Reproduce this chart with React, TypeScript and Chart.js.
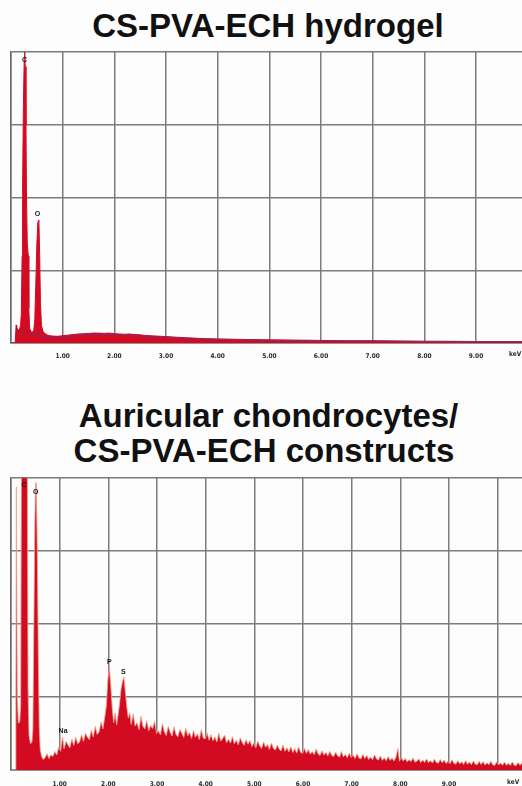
import React, { useEffect, useRef } from 'react';
import { Chart, registerables } from 'chart.js';

Chart.register(...registerables);

// ---------- text ----------
const topTitle = 'CS-PVA-ECH hydrogel';
const bottomTitleLine1 = 'Auricular chondrocytes/';
const bottomTitleLine2 = 'CS-PVA-ECH constructs';
const unitLabel = 'keV';

// ---------- axes ----------
const topKeVTicks = [0, 1, 2, 3, 4, 5, 6, 7, 8, 9];
const bottomKeVTicks = [0, 1, 2, 3, 4, 5, 6, 7, 8, 9, 10];
const countTicks = [0, 25, 50, 75, 100];
const topKeVMax = 9.89;
const bottomKeVMax = 10.5;

// ---------- hydrogel spectrum ----------
const hydrogelEnergy = [
  0, 0.08, 0.10, 0.11, 0.13, 0.16, 0.185, 0.20, 0.215, 0.225,
  0.24, 0.255, 0.265, 0.275, 0.29, 0.30, 0.315, 0.335, 0.345, 0.36,
  0.40, 0.44, 0.46, 0.48, 0.50, 0.52, 0.54, 0.555, 0.57, 0.59,
  0.62, 0.66, 0.72, 0.8, 0.9, 1.0, 1.1, 1.2, 1.3, 1.4,
  1.5, 1.6, 1.7, 1.8, 1.9, 2.0, 2.1, 2.2, 2.3, 2.4,
  2.5, 2.6, 2.8, 3.0, 3.2, 3.4, 3.6, 3.8, 4.0, 4.3,
  4.6, 5.0, 5.5, 6.0, 6.5, 7.0, 7.5, 8.0, 8.5, 9.0,
  9.5, 9.89,
];
const hydrogelCounts = [
  0, 0, 6.2, 5.5, 4.6, 4.4, 6, 10, 30, 55,
  82, 97, 100, 95, 75, 50, 34, 30, 12, 5,
  3.6, 4.2, 8, 20, 34, 41.5, 42.3, 30, 14, 6,
  4, 3.2, 2.6, 2.4, 2.3, 2.5, 2.7, 2.9, 3.1, 3.2,
  3.3, 3.4, 3.4, 3.3, 3.4, 3.2, 3.1, 3.0, 3.1, 2.9,
  2.8, 2.6, 2.4, 2.2, 2.0, 1.8, 1.6, 1.5, 1.4, 1.3,
  1.2, 1.1, 1.0, 0.9, 0.8, 0.8, 0.7, 0.6, 0.6, 0.5,
  0.5, 0.5,
];
const hydrogelFitEnergy = [0.09, 0.2, 0.4, 0.7, 1.0, 1.5, 2.0, 2.5, 3.0, 4.0, 5.0, 6.0, 7.0, 8.0, 9.0, 9.89];
const hydrogelFitCounts = [4.8, 3.8, 2.9, 2.1, 2.1, 2.8, 2.8, 2.4, 2.0, 1.3, 0.9, 0.8, 0.7, 0.55, 0.45, 0.45];
const hydrogelPeakNames = ['C', 'O'];
const hydrogelPeakEnergy = [0.26, 0.51];
const hydrogelPeakCounts = [96, 43];

// ---------- construct spectrum ----------
const constructEnergy = [
  0, 0.09, 0.10, 0.11, 0.12, 0.13, 0.15, 0.18, 0.20, 0.215,
  0.335, 0.35, 0.37, 0.40, 0.43, 0.45, 0.47, 0.49, 0.505, 0.52,
  0.54, 0.56, 0.58, 0.60, 0.63, 0.66,
  0.70, 0.74, 0.78, 0.82, 0.86, 0.90, 0.94, 0.98, 1.02, 1.06,
  1.09, 1.13, 1.17, 1.21, 1.25, 1.29, 1.33, 1.37, 1.41, 1.45,
  1.49, 1.53, 1.57, 1.61, 1.65, 1.69, 1.73, 1.77, 1.81, 1.85,
  1.89, 1.93, 1.96, 1.99, 2.02, 2.05, 2.08, 2.11, 2.14, 2.17,
  2.20, 2.23, 2.26, 2.29, 2.32, 2.35, 2.38, 2.41, 2.44, 2.47,
  2.51, 2.55, 2.59, 2.63, 2.67, 2.71, 2.75, 2.79, 2.83, 2.87,
  2.91, 2.95, 2.99, 3.03, 3.07, 3.11, 3.15, 3.19, 3.23, 3.27,
  3.31, 3.35, 3.39, 3.43, 3.47, 3.51, 3.55, 3.59, 3.63, 3.67,
  3.71, 3.75, 3.79, 3.83, 3.87, 3.91, 3.95, 3.99, 4.03, 4.07,
  4.11, 4.15, 4.19, 4.23, 4.27, 4.31, 4.35, 4.39, 4.43, 4.47,
  4.51, 4.55, 4.59, 4.63, 4.67, 4.71, 4.75, 4.79, 4.83, 4.87,
  4.91, 4.95, 4.99, 5.03, 5.07, 5.11, 5.15, 5.19, 5.23, 5.27,
  5.31, 5.35, 5.39, 5.43, 5.47, 5.51, 5.55, 5.59, 5.63, 5.67,
  5.71, 5.75, 5.79, 5.83, 5.87, 5.91, 5.95, 5.99, 6.03, 6.07,
  6.11, 6.15, 6.19, 6.23, 6.27, 6.31, 6.35, 6.39, 6.43, 6.47,
  6.51, 6.55, 6.59, 6.63, 6.67, 6.71, 6.75, 6.79, 6.83, 6.87,
  6.91, 6.95, 6.99, 7.03, 7.07, 7.11, 7.15, 7.19, 7.23, 7.27,
  7.31, 7.35, 7.39, 7.43, 7.47, 7.51, 7.55, 7.59, 7.63, 7.67,
  7.71, 7.75, 7.79, 7.83, 7.87, 7.91, 7.95, 7.98, 8.02, 8.06,
  8.10, 8.14, 8.18, 8.22, 8.26, 8.30, 8.34, 8.38, 8.42, 8.46,
  8.50, 8.54, 8.58, 8.62, 8.66, 8.70, 8.74, 8.78, 8.82, 8.86,
  8.90, 8.94, 8.98, 9.02, 9.06, 9.10, 9.14, 9.18, 9.22, 9.26,
  9.30, 9.34, 9.38, 9.42, 9.46, 9.50, 9.54, 9.58, 9.62, 9.66,
  9.70, 9.74, 9.78, 9.82, 9.86, 9.90, 9.94, 9.98, 10.02, 10.06,
  10.10, 10.14, 10.18, 10.22, 10.26, 10.30, 10.34, 10.38, 10.42, 10.46,
  10.50,
];
const constructCounts = [
  0, 0, 20, 97, 97, 25, 16, 16.5, 22, 110,
  110, 28, 12, 9, 9.5, 14, 50, 85, 98.5, 98,
  75, 40, 15, 7, 4.5, 3.6,
  4.2, 5.6, 3.9, 5.2, 4.6, 6.3, 5.1, 7.8, 6.4, 11.3,
  7.2, 9.8, 8.6, 7.6, 10.6, 8.4, 11.2, 9.0, 9.6, 12.1,
  9.8, 12.6, 11.2, 10.4, 13.6, 11.3, 14.9, 12.2, 13.0, 16.4,
  14.1, 18.5, 22, 31, 35.2, 29, 21, 16.2, 19.5, 15.4,
  18.8, 22.5, 27.5, 30.2, 31.8, 26.5, 21.5, 17.8, 19.6, 15.6,
  19.2, 15.1, 16.2, 13.8, 18.4, 15.0, 14.1, 16.9, 13.4, 15.2,
  14.2, 16.6, 12.5, 13.4, 12.0, 15.8, 13.1, 11.8, 14.9, 12.9,
  11.6, 14.8, 12.2, 11.4, 13.9, 12.6, 11.1, 14.3, 11.7, 12.8,
  10.8, 13.5, 11.2, 12.4, 10.4, 13.8, 11.0, 10.6, 12.7, 10.2,
  12.1, 10.0, 11.3, 9.6, 12.6, 9.9, 10.8, 11.9, 9.3, 10.5,
  9.2, 11.4, 9.0, 10.2, 8.6, 11.0, 9.5, 8.4, 10.4, 8.8,
  10.1, 8.0, 9.3, 7.6, 9.9, 8.3, 7.4, 9.6, 7.8, 8.7,
  7.0, 9.2, 7.5, 6.8, 8.5, 7.2, 6.5, 8.6, 6.4, 7.6,
  6.2, 8.0, 6.0, 7.3, 5.8, 7.9, 6.1, 5.6, 7.4, 5.7,
  7.0, 5.4, 6.3, 5.2, 7.2, 5.5, 5.0, 6.6, 5.1, 6.0,
  4.8, 6.4, 5.0, 4.6, 6.1, 4.9, 4.4, 6.3, 4.5, 5.3,
  4.2, 5.8, 4.3, 5.1, 3.9, 5.6, 4.1, 3.8, 5.4, 3.9,
  5.0, 3.6, 4.4, 3.5, 5.2, 3.8, 3.4, 4.8, 3.3, 4.1,
  3.2, 4.6, 3.3, 4.0, 3.1, 4.4, 7.4, 3.0, 4.2, 3.1,
  3.9, 2.8, 3.5, 2.9, 4.1, 2.7, 3.0, 3.8, 2.6, 3.4,
  2.6, 3.8, 2.5, 3.2, 2.4, 3.7, 2.6, 2.3, 3.6, 2.5,
  3.4, 2.2, 3.0, 2.1, 3.5, 2.3, 2.0, 3.2, 2.1, 2.8,
  1.9, 3.2, 2.0, 2.7, 1.8, 3.1, 2.0, 1.8, 3.0, 1.9,
  2.9, 1.7, 2.5, 1.8, 3.0, 1.7, 1.6, 2.8, 1.7, 2.4,
  1.6, 2.7, 1.6, 2.3, 1.5, 2.8, 1.6, 1.5, 2.6, 1.6,
  2.4,
];
const constructPeakNames = ['C', 'O', 'Na', 'P', 'S'];
const constructPeakEnergy = [0.27, 0.51, 1.07, 2.02, 2.31];
const constructPeakCounts = [96.5, 94, 12, 35.8, 32.3];

// ---------- styles ----------
const spectrumRed = '#d20a22';
const gridGray = '#7c7c7c';
const tickFont = '"Liberation Sans Narrow", "DejaVu Sans Condensed", "Liberation Sans", Arial, sans-serif';
const titleFont = '"Liberation Sans", Arial, Helvetica, sans-serif';

const peakLabelPlugin = {
  id: 'peakLabels',
  afterDatasetsDraw(chart: any, _args: any, opts: any) {
    if (!opts || !opts.names) return;
    const { ctx } = chart;
    const xs = chart.scales.x;
    const ys = chart.scales.y;
    ctx.save();
    ctx.font = `bold 7px ${titleFont}`;
    ctx.fillStyle = '#151515';
    ctx.textAlign = 'center';
    ctx.textBaseline = 'bottom';
    opts.names.forEach((n: string, i: number) => {
      ctx.fillText(n, xs.getPixelForValue(opts.energies[i]), ys.getPixelForValue(opts.counts[i]));
    });
    ctx.restore();
  },
};

type SpectrumProps = {
  top: number;
  height: number;
  padTop: number;
  axisHeight: number;
  labelPad: number;
  keVMax: number;
  keVTicks: number[];
  energy: number[];
  counts: number[];
  lineColor: string;
  lineWidth: number;
  fitEnergy?: number[];
  fitCounts?: number[];
  peakNames: string[];
  peakEnergy: number[];
  peakCounts: number[];
};

function Spectrum(p: SpectrumProps) {
  const ref = useRef<HTMLCanvasElement | null>(null);
  useEffect(() => {
    if (!ref.current) return;
    const datasets: any[] = [];
    if (p.fitEnergy && p.fitCounts) {
      datasets.push({
        data: p.fitEnergy.map((e, i) => ({ x: e, y: p.fitCounts![i] })),
        borderColor: 'rgba(60,76,170,0.8)',
        borderWidth: 0.7,
        fill: false,
        pointRadius: 0,
        tension: 0,
      });
    }
    datasets.push({
      data: p.energy.map((e, i) => ({ x: e, y: p.counts[i] })),
      borderColor: p.lineColor,
      borderWidth: p.lineWidth,
      backgroundColor: spectrumRed,
      fill: 'origin',
      pointRadius: 0,
      tension: 0,
    });
    const chart = new Chart(ref.current, {
      type: 'line',
      data: { datasets },
      plugins: [peakLabelPlugin as any],
      options: {
        animation: false,
        responsive: false,
        maintainAspectRatio: false,
        layout: { padding: { top: p.padTop, left: 0, right: 0, bottom: 0 } },
        plugins: {
          legend: { display: false },
          tooltip: { enabled: false },
          peakLabels: { names: p.peakNames, energies: p.peakEnergy, counts: p.peakCounts },
        } as any,
        scales: {
          x: {
            type: 'linear',
            min: 0,
            max: p.keVMax,
            afterBuildTicks: (s: any) => {
              s.ticks = p.keVTicks.map((v) => ({ value: v }));
            },
            afterFit: (s: any) => {
              s.height = p.axisHeight;
              s.paddingLeft = 0;
              s.paddingRight = 0;
            },
            ticks: {
              autoSkip: false,
              maxRotation: 0,
              padding: p.labelPad,
              color: '#2a2a2a',
              font: { size: 6.5, weight: 'bold', family: tickFont },
              callback: (v: any) => (v === 0 || v === 10 ? '' : Number(v).toFixed(2)),
            },
            grid: { color: gridGray, lineWidth: 1.5, drawTicks: false },
            border: { color: '#6a6a6a', width: 1.5 },
          },
          y: {
            min: 0,
            max: 100,
            afterBuildTicks: (s: any) => {
              s.ticks = countTicks.map((v) => ({ value: v }));
            },
            afterFit: (s: any) => {
              s.width = 11;
            },
            ticks: { display: false },
            grid: { color: gridGray, lineWidth: 1.5, drawTicks: false },
            border: { color: '#6a6a6a', width: 1.5 },
          },
        },
      } as any,
    });
    return () => chart.destroy();
  }, []);
  return (
    <canvas
      ref={ref}
      width={522}
      height={p.height}
      style={{ position: 'absolute', left: 0, top: p.top, width: 522, height: p.height, display: 'block' }}
    />
  );
}

const titleStyle = (top: number, width: number): React.CSSProperties => ({
  position: 'absolute',
  left: 0,
  top,
  width,
  textAlign: 'center',
  fontFamily: titleFont,
  fontWeight: 'bold',
  fontSize: 33,
  lineHeight: '33px',
  color: '#111',
  whiteSpace: 'nowrap',
});

const unitStyle = (top: number, left: number): React.CSSProperties => ({
  position: 'absolute',
  left,
  top,
  fontFamily: tickFont,
  fontWeight: 'bold',
  fontSize: 6.5,
  lineHeight: '7px',
  color: '#2a2a2a',
});

export default function App() {
  return (
    <div
      style={{
        position: 'absolute',
        left: 0,
        top: 0,
        width: 522,
        height: 786,
        overflow: 'hidden',
        background: '#fdfdfd',
      }}
    >
      <div style={titleStyle(9, 536)}>{topTitle}</div>
      <Spectrum
        top={0}
        height={370}
        padTop={52}
        axisHeight={27}
        labelPad={9}
        keVMax={topKeVMax}
        keVTicks={topKeVTicks}
        energy={hydrogelEnergy}
        counts={hydrogelCounts}
        lineColor={spectrumRed}
        lineWidth={1}
        fitEnergy={hydrogelFitEnergy}
        fitCounts={hydrogelFitCounts}
        peakNames={hydrogelPeakNames}
        peakEnergy={hydrogelPeakEnergy}
        peakCounts={hydrogelPeakCounts}
      />
      <span style={unitStyle(351, 509)}>{unitLabel}</span>
      <div style={titleStyle(399, 537)}>{bottomTitleLine1}</div>
      <div style={titleStyle(434, 528)}>{bottomTitleLine2}</div>
      <Spectrum
        top={460}
        height={326}
        padTop={18}
        axisHeight={16}
        labelPad={10}
        keVMax={bottomKeVMax}
        keVTicks={bottomKeVTicks}
        energy={constructEnergy}
        counts={constructCounts}
        lineColor="#f0a286"
        lineWidth={0.8}
        peakNames={constructPeakNames}
        peakEnergy={constructPeakEnergy}
        peakCounts={constructPeakCounts}
      />
      <span style={unitStyle(779, 507)}>{unitLabel}</span>
    </div>
  );
}
